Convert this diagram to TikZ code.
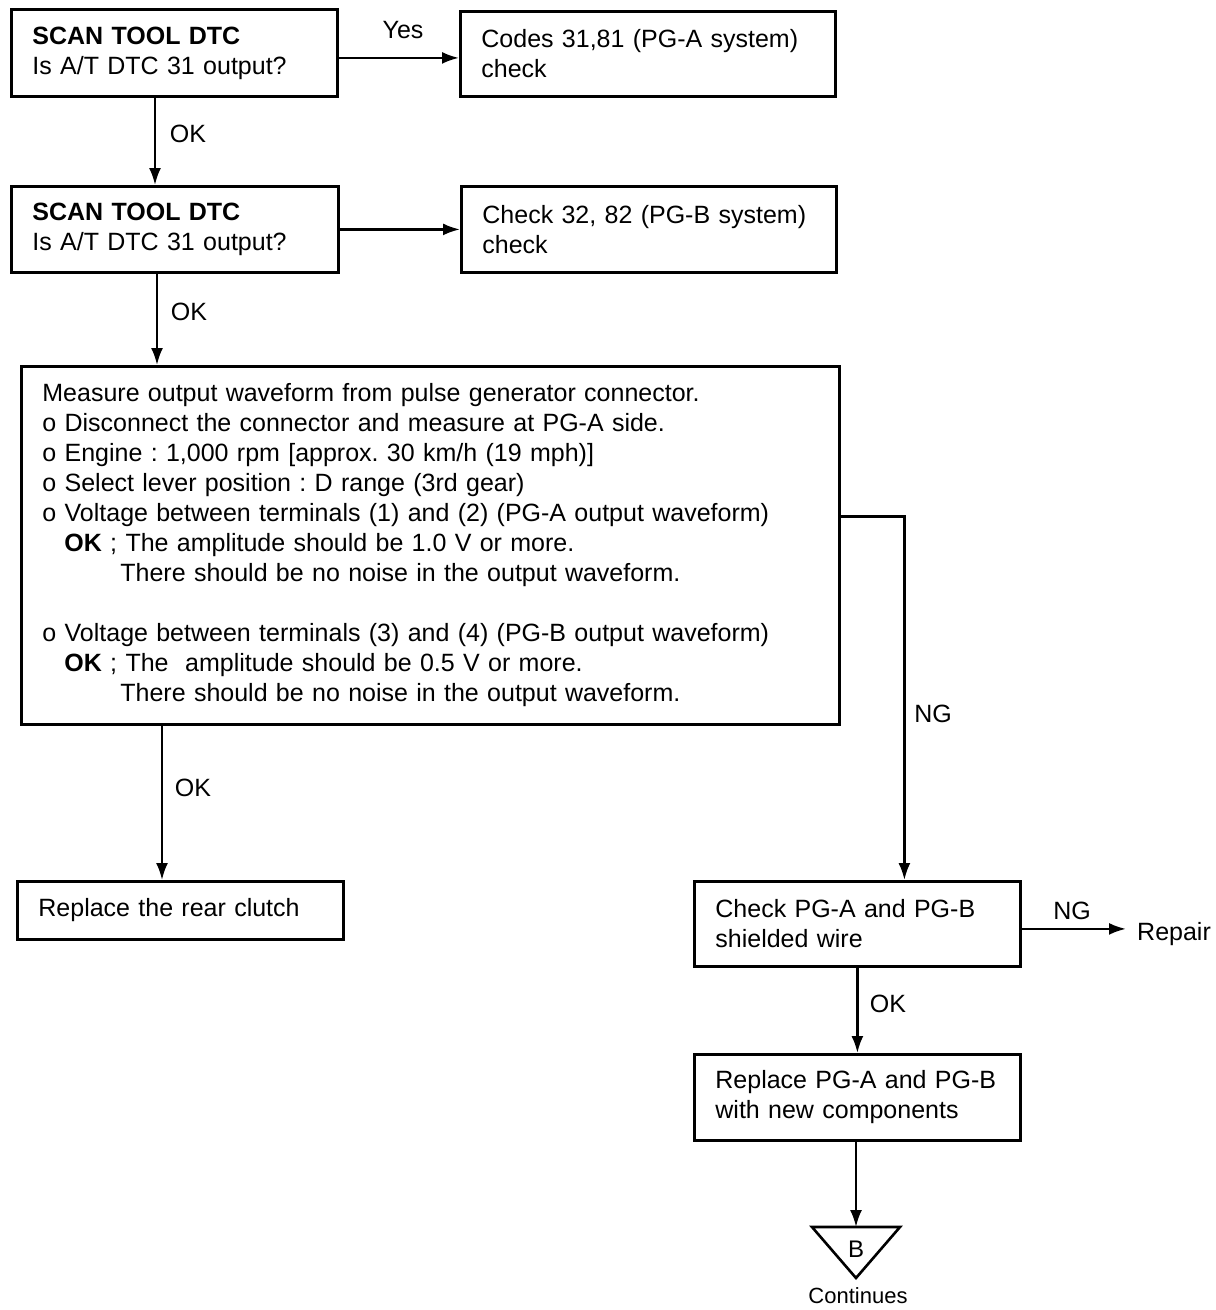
\documentclass[tikz,border=0pt]{standalone}
\usepackage{fontspec}
\setmainfont{Liberation Sans}
\usetikzlibrary{arrows.meta,calc}
\frenchspacing
\newcommand\fs{\fontsize{25}{30}\selectfont}
\tikzset{
  box/.style={draw, line width=2.8pt, anchor=north west, inner xsep=21pt, inner ysep=0pt, align=left, font=\fs},
  arr/.style={line width=2.4pt, -{Latex[length=17pt,width=12pt]}},
  lbl/.style={anchor=base, inner sep=0pt, font=\fs}
}
\begin{document}
\begin{tikzpicture}[x=1pt,y=-1pt]
\useasboundingbox (0,0) rectangle (1216,1310);
\node[box, text width=284pt, minimum height=87pt] (b1) at (10,8) {\textbf{SCAN TOOL DTC}\\Is A/T DTC 31 output?};
\node[box, text width=333pt, minimum height=85pt] (b2) at (459,10) {Codes 31,81 (PG-A system)\\check};
\node[box, text width=285pt, minimum height=86pt] (b3) at (10,185) {\textbf{SCAN TOOL DTC}\\Is A/T DTC 31 output?};
\node[box, text width=333pt, minimum height=86pt] (b4) at (460,185) {Check 32, 82 (PG-B system)\\check};
\node[box, text width=776pt, minimum height=358pt] (big) at (20,365) {Measure output waveform from pulse generator connector.\\
o Disconnect the connector and measure at PG-A side.\\
o Engine : 1,000 rpm [approx. 30 km/h (19 mph)]\\
o Select lever position : D range (3rd gear)\\
o Voltage between terminals (1) and (2) (PG-A output waveform)\\
\hspace*{22pt}\textbf{OK} ; The amplitude should be 1.0 V or more.\\
\hspace*{78pt}There should be no noise in the output waveform.\\
\mbox{}\\
o Voltage between terminals (3) and (4) (PG-B output waveform)\\
\hspace*{22pt}\textbf{OK} ; The\ \ amplitude should be 0.5 V or more.\\
\hspace*{78pt}There should be no noise in the output waveform.};
\node[box, text width=284pt, minimum height=58pt] (rc) at (16,880) {Replace the rear clutch};
\node[box, text width=284pt, minimum height=85pt] (c1) at (693,880) {Check PG-A and PG-B\\shielded wire};
\node[box, text width=284pt, minimum height=86pt] (c2) at (693,1053) {Replace PG-A and PG-B\\with new components};
\node[anchor=base west, inner xsep=11pt, inner ysep=0pt, font=\fs] (repair) at (1126,940) {Repair};
\coordinate (tt) at (856,1227);
\draw[line width=2.6pt, line join=miter] (812,1227) -- (900,1227) -- (856,1278) -- cycle;
\node[font=\fontsize{24}{28}\selectfont, inner sep=0pt] (bl) at (856,1249) {B};
\node[lbl, font=\fontsize{22}{26}\selectfont] (cont) at (858,1303) {Continues};
% labels
\node[lbl] (l1) at (403,38) {Yes};
\node[lbl] (l2) at (188,142) {OK};
\node[lbl] (l3) at (189,320) {OK};
\node[lbl] (l4) at (193,796) {OK};
\node[lbl] (l5) at (933,722) {NG};
\node[lbl] (l6) at (1072,919) {NG};
\node[lbl] (l7) at (888,1012) {OK};
% connectors
\draw[arr] ([yshift=-5pt]b1.east) -- ([yshift=-5pt]b1.east -| b2.west);
\draw[arr] ([xshift=145pt]b1.south west) -- ([xshift=145pt]b1.south west |- b3.north);
\draw[arr] (b3.east) -- (b3.east -| b4.west);
\draw[arr] ([xshift=147pt]b3.south west) -- ([xshift=147pt]b3.south west |- big.north);
\draw[arr] ([xshift=142pt]big.south west) -- ([xshift=142pt]big.south west |- rc.north);
\draw[arr] ([yshift=29pt]big.east) -| ([xshift=47pt]c1.north);
\draw[arr] ([yshift=-5pt]c1.east) -- ([yshift=-5pt]c1.east -| repair.west);
\draw[arr] (c1.south) -- (c2.north);
\draw[arr] (c2.south -| tt) -- (tt);
\end{tikzpicture}
\end{document}
